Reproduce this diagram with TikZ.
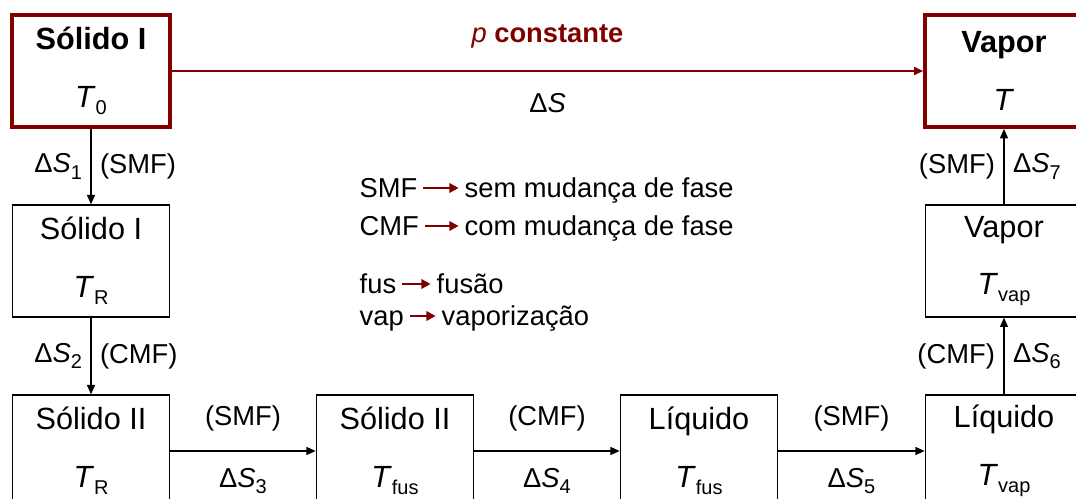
\documentclass[tikz,border=0pt]{standalone}
\usepackage{fontspec}
\setmainfont{Liberation Sans}
\usetikzlibrary{arrows.meta}
\definecolor{vinho}{RGB}{128,0,0}
\newcommand{\subtxt}[1]{\raisebox{-0.45ex}{\fontsize{15}{15}\selectfont #1}}
\newcommand{\Temp}[1]{\textit{T}\subtxt{#1}}
\newcommand{\dS}[1]{\textup{Δ}\textit{S}\subtxt{#1}}

\begin{document}
\begin{tikzpicture}[x=0.75pt, y=-0.75pt, font=\fontsize{20.5}{24}\selectfont,
    estado/.style={draw, line width=1pt, minimum width=118pt, minimum height=84pt, align=center, font=\fontsize{23}{26}\selectfont},
    extremo/.style={draw=vinho, line width=3pt},
    passo/.style={-{Triangle[length=7pt, width=6pt]}, line width=1pt},
    legenda/.style={-{Triangle[length=7pt, width=7pt]}, draw=vinho, line width=2pt, shorten <=1pt, shorten >=1pt},
    chave/.style={anchor=west, text height=15pt, text depth=0.4pt}]
    \clip (0,0) rectangle (1076,499);

    % estados inicial e final
    \node[estado, extremo] (s0) at (91,71) {\textbf{Sólido I}\\[17pt]\Temp{0}};
    \node[estado, extremo] (v0) at (1004,71) {\textbf{Vapor}\\[17pt]\textit{T}};
    \draw[passo, draw=vinho, line width=1.6pt] (s0) -- node[above=13pt, text=vinho] {\textit{p} \textbf{constante}} node[below=13pt] {Δ\textit{S}} (v0);

    % caminho
    \node[estado] (s1) at (91,261) {Sólido I\\[17pt]\Temp{R}};
    \node[estado] (s2) at (91,451) {Sólido II\\[17pt]\Temp{R}};
    \node[estado] (s3) at (395,451) {Sólido II\\[17pt]\Temp{fus}};
    \node[estado] (l1) at (699,451) {Líquido\\[17pt]\Temp{fus}};
    \node[estado] (l2) at (1004,451) {Líquido\\[17pt]\Temp{vap}};
    \node[estado] (v1) at (1004,261) {Vapor\\[17pt]\Temp{vap}};

    \draw[passo] (s0) -- node[left=3pt] {\dS{1}} node[right=3pt] {(SMF)} (s1);
    \draw[passo] (s1) -- node[left=3pt] {\dS{2}} node[right=3pt] {(CMF)} (s2);
    \draw[passo] (s2) -- node[above=11pt] {(SMF)} node[below=9pt] {\dS{3}} (s3);
    \draw[passo] (s3) -- node[above=11pt] {(CMF)} node[below=9pt] {\dS{4}} (l1);
    \draw[passo] (l1) -- node[above=11pt] {(SMF)} node[below=9pt] {\dS{5}} (l2);
    \draw[passo] (l2) -- node[left=3pt] {(CMF)} node[right=3pt] {\dS{6}} (v1);
    \draw[passo] (v1) -- node[left=3pt] {(SMF)} node[right=3pt] {\dS{7}} (v0);

    % legenda
    \node[chave] (smf) at (355,188) {SMF};
    \node[chave] (smfd) at (460,188) {sem mudança de fase};
    \node[chave] (cmf) at (355,226) {CMF};
    \node[chave] (cmfd) at (460,226) {com mudança de fase};
    \node[chave] (fus) at (355,284) {fus};
    \node[chave] (fusd) at (432,284) {fusão};
    \node[chave] (vap) at (355,316) {vap};
    \node[chave] (vapd) at (437,316) {vaporização};
    \draw[legenda] (smf) -- (smfd);
    \draw[legenda] (cmf) -- (cmfd);
    \draw[legenda] (fus) -- (fusd);
    \draw[legenda] (vap) -- (vapd);
\end{tikzpicture}
\end{document}
